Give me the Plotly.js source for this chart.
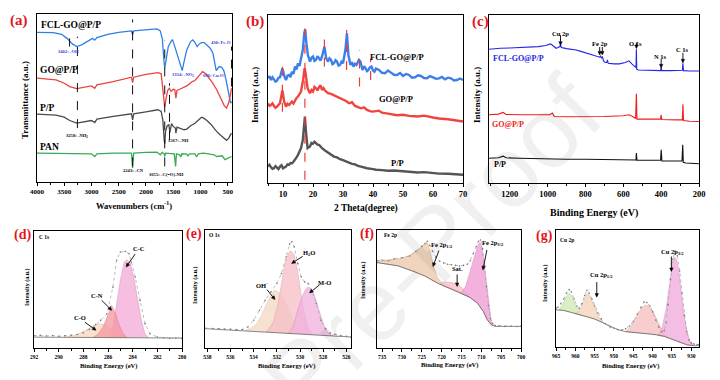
<!DOCTYPE html>
<html><head><meta charset="utf-8">
<script src="https://cdn.plot.ly/plotly-3.0.1.min.js"></script>
<style>html,body{margin:0;padding:0;background:#fff}#chart{width:720px;height:380px}</style>
</head><body><div id="chart"></div>
<script>
// ---------- (a) FTIR ----------
const ftirFCL_x = [4000,3700,3550,3450,3350,3270,3180,3080,2980,2940,2900,2700,2500,2265,2245,2225,2000,1800,1740,1700,1670,1655,1630,1590,1530,1510,1480,1440,1400,1350,1334,1300,1250,1180,1140,1100,1060,1020,980,930,880,820,770,730,710,680,650,610,570,530,500,470,445,430];
const ftirFCL_y = [89.1,88.9,87.9,85.5,82.2,80.6,81.6,83.6,85.5,84.4,85.9,87.9,89.1,89.9,87.7,89.9,90.5,91.1,90.1,85.5,72.7,67.7,72.7,80.6,84.2,84.6,81.6,77.6,73.7,67.7,66.3,71.7,78.6,83.6,84.6,83.0,80.6,82.2,83.0,83.0,81.6,79.6,76.6,68.7,66.3,67.7,68.7,68.3,66.3,60.8,55.8,49.9,46.9,47.9];
const ftirGO_x = [4000,3650,3500,3400,3270,3150,3000,2940,2900,2600,2265,2245,2225,2000,1780,1720,1690,1665,1655,1630,1600,1570,1540,1500,1470,1450,1430,1380,1300,1250,1200,1150,1100,1050,1000,960,900,850,780,700,620,560,520,480,450,430];
const ftirGO_y = [61.8,60.8,58.8,56.8,55.6,56.4,57.2,55.8,57.8,59.8,62.4,59.2,62.4,64.0,65.1,64.4,56.8,46.9,44.6,49.9,54.5,55.8,53.9,55.2,54.9,49.9,54.5,55.2,56.4,57.2,58.4,59.8,60.4,62.4,64.4,65.7,64.4,62.4,59.2,54.9,49.9,45.3,44.0,47.1,51.9,55.8];
const ftirPP_x = [4000,3650,3500,3400,3270,3150,3000,2940,2900,2600,2265,2245,2225,2000,1780,1720,1690,1665,1655,1640,1610,1580,1560,1530,1500,1460,1450,1430,1380,1300,1250,1180,1100,1050,980,940,880,800,720,640,560,520,480,450,430];
const ftirPP_y = [40.4,39.8,38.6,36.6,35.0,35.6,36.6,35.4,37.4,39.0,40.6,37.0,40.6,41.8,43.0,42.0,37.0,25.1,22.8,30.1,33.5,34.1,29.5,34.7,33.1,32.1,29.1,32.7,32.1,31.1,31.5,33.5,35.0,36.6,38.6,38.0,36.6,34.1,30.7,28.1,25.5,24.8,26.1,27.5,29.1];
const ftirPAN_x = [4000,3700,3500,3200,3000,2940,2900,2600,2265,2245,2225,2000,1800,1735,1700,1665,1655,1640,1550,1480,1455,1440,1380,1360,1340,1250,1230,1200,1100,1070,1040,950,850,750,700,600,550,520,480,430];
const ftirPAN_y = [17.2,17.2,17.2,16.8,16.8,15.2,16.8,17.2,17.2,8.3,17.2,17.6,17.8,16.2,17.6,16.8,15.2,17.2,16.8,16.8,9.3,16.8,16.2,14.9,16.8,16.6,15.6,16.8,16.8,14.9,16.8,17.2,16.8,16.2,15.2,15.6,13.3,13.7,14.3,15.2];
const ftirMarks_x = [3402,3258,2245,1655,1567,430];
const ftirMarks_y0 = [80.6,32.1,9.3,9.3,25.1,56.8];
const ftirMarks_y1 = [85.5,86.5,96.8,84.6,58.8,80.6];

// ---------- (b) XRD ----------
const xrdFCL_x = [5,5.5,6,6.5,7,7.5,8,8.5,9,9.8,10.5,11,11.5,12,12.5,13,13.5,14,14.5,15,15.5,16,16.6,17.1,17.4,17.8,18.3,19,19.5,20,20.5,21,21.5,22,22.5,23,23.8,24.4,25,25.5,26,26.5,27,27.5,28,28.5,29,29.5,30,30.8,31.3,31.8,32.5,33,33.5,34,34.5,35.3,35.8,36.5,37,37.5,38,38.5,39,39.5,40,40.5,41,42,43,44,45,46,47,48,49,50,51,52,53,54,55,56,57,58,59,60,61,62,63,64,65,66,67,68,69,70];
const xrdFCL_y = [62.2,63.5,61.2,62.8,61.6,60.2,60.8,62.5,62.8,68.2,63.2,61.2,63.8,64.2,62.9,66.2,64.8,69.2,67.5,71.2,69.6,74.2,79.1,89.1,91.5,83.1,76.1,72.2,74.5,75.2,72.6,73.2,75.4,74.2,72.8,75.2,81.1,74.2,72.2,74.1,73.2,70.6,71.2,73.0,72.2,69.8,70.2,72.1,71.2,79.1,89.1,76.1,70.2,71.8,69.2,70.9,70.2,73.2,72.2,67.2,69.4,68.2,66.5,67.2,68.8,69.2,66.9,66.2,68.0,67.2,65.5,65.2,66.8,65.6,64.3,64.2,65.4,63.6,64.8,64.2,62.6,62.8,64.0,63.6,62.4,62.2,63.5,62.8,61.9,62.2,63.0,61.6,62.6,62.2,60.9,61.2,62.1,61.2];
const xrdGO_x = [5,5.5,6,6.5,7,7.5,8,8.5,9,9.8,10.4,11,11.5,12,12.5,13,13.5,14,14.5,15,15.5,16,16.7,17.2,17.6,18.2,19,19.5,20,20.5,21,21.5,22,22.5,23,23.5,24,25,26,27,28,29,30,31,32,33,34,35,36,37,38,39,40,42,43,45,46,48,50,52,55,57,60,62,65,67,70];
const xrdGO_y = [47.3,45.8,46.3,47.2,45.7,44.6,45.3,46.5,47.3,54.9,48.3,45.3,47.0,46.3,47.6,48.3,47.1,49.3,50.5,51.3,52.6,54.3,61.2,68.2,64.2,56.3,53.3,55.2,54.3,57.1,56.3,55.0,56.9,58.0,55.3,56.4,54.9,53.3,52.9,52.0,51.3,50.6,49.3,48.7,47.3,47.9,45.7,45.0,44.3,44.9,43.3,42.6,42.3,42.9,41.7,41.1,40.9,40.2,40.4,39.8,39.4,39.9,38.8,38.2,37.8,37.4,36.4];
const xrdPP_x = [5,5.5,6,6.5,7,7.5,8,8.5,9,9.5,10,10.5,11,11.5,12,12.5,13,13.5,14,14.5,15,15.5,16,16.6,17.0,17.3,17.7,18.2,19,19.5,20,20.5,21,21.5,22,22.5,23,24,25,26,27,28,29,30,31,32,33,34,35,36,38,40,41,43,45,47,50,52,55,57,60,62,65,67,70];
const xrdPP_y = [9.5,10.6,9.1,8.2,8.5,9.8,8.9,8.0,9.5,10.3,8.5,9.2,9.5,10.8,10.5,11.6,11.5,12.4,13.5,15.0,16.5,18.6,20.5,25.4,35.4,39.4,29.4,20.5,21.5,23.6,23.1,24.3,23.5,22.6,22.5,21.4,20.5,19.1,17.9,16.8,15.5,15.0,13.9,13.4,12.5,12.0,11.1,10.8,9.9,9.5,8.5,8.0,7.6,7.4,7.0,7.2,6.6,6.4,6.0,6.2,5.6,5.3,5.2,4.9,4.6];
const xrdMarks_x = [9.8,17.3,23.8,31.2,35.5,39.2];
const xrdMarks_y0 = [42.3,1.6,69.2,67.2,57.3,61.2];
const xrdMarks_y1 = [71.2,92.0,86.1,91.1,79.1,74.2];

// ---------- (c) XPS survey ----------
const svFCL_x = [1310,1280,1250,1200,1150,1100,1050,1010,985,975,965,955,945,935,932,928,900,870,850,820,800,780,760,740,725,720,715,710,705,695,688,684,680,650,620,590,570,555,540,533,531,529,520,480,420,403,400,397,350,300,288,285,282,250,200];
const svFCL_y = [79.6,80.0,80.2,80.4,80.6,80.8,81.2,81.8,82.8,82.0,81.0,80.2,80.6,81.2,82.6,80.6,80.0,79.6,79.2,78.2,77.6,76.8,76.0,75.6,74.9,75.6,74.3,75.2,72.7,71.7,71.7,73.3,71.3,70.9,70.9,71.7,72.7,70.9,69.3,68.7,79.6,67.7,67.3,67.1,66.9,66.9,68.9,66.9,66.9,66.9,67.1,71.3,66.9,66.7,66.7];
const svGO_x = [1310,1260,1235,1220,1150,1050,990,975,965,900,800,700,600,570,550,535,531,528,450,403,400,397,320,288,285,282,250,200];
const svGO_y = [40.6,41.0,42.0,40.8,40.6,40.4,40.6,41.6,39.6,39.4,39.4,39.6,40.0,40.6,39.6,38.4,53.1,38.0,38.0,38.0,40.6,37.8,37.6,37.6,46.9,37.2,36.8,36.6];
const svPP_x = [1310,1260,1235,1220,1150,1050,1000,900,800,700,600,540,533,531,528,450,403,400,396,320,290,286,283,270,230,200];
const svPP_y = [14.7,15.0,16.0,15.0,14.7,14.3,14.5,14.1,14.1,14.1,14.1,13.9,13.7,17.8,13.5,13.5,13.5,19.8,13.1,13.1,13.1,22.8,12.3,11.9,11.5,11.5];

// ---------- (d) C 1s ----------
const c1sData_x = [292,291.5,291,290.5,290,289.5,289,288.5,288,287.5,287,286.6,286.1,285.6,285.3,285.0,284.6,284.3,284.1,283.8,283.4,283.0,282.6,282.0,281.5,281,280.5,280];
const c1sData_y = [10.5,10.8,10.2,10.6,10.0,10.4,10.8,11.5,13,16,20,23.6,29,52,75,82,82.6,80.6,73.5,60.7,40.7,20.8,12.3,9.4,8.8,8.2,8.6,8.0];
const c1sBase_x = [292,280];
const c1sBase_y = [9.3,8.5];
const c1sCO_x = [289.5,288.8,288.2,287.6,287.1,286.7,286.3,285.9,285.4,284.9,284.4];
const c1sCO_y = [9.1,10.5,13,16.5,19.5,20.8,20,17,13,10.3,9.0];
const c1sCN_x = [287.2,286.8,286.4,286.0,285.7,285.4,285.1,284.8,284.5];
const c1sCN_y = [9.1,12,18,28,36.5,30,20,13,9.0];
const c1sCC_x = [286.0,285.6,285.3,285.0,284.7,284.5,284.2,283.9,283.6,283.3,283.0,282.7];
const c1sCC_y = [9.0,18,38,58,73,75.5,73,60,42,24,12,9];

// ---------- (e) O 1s ----------
const o1sData_x = [538.2,537.5,537,536.5,536,535.5,535,534.5,534,533.5,533,532.5,532,531.6,531.2,530.9,530.7,530.5,530.2,529.9,529.6,529.3,529,528.6,528.2,527.8,527.4,527,526.5,526,525.6];
const o1sData_y = [16.8,16.5,16.3,15.8,15.8,15.4,15.6,17.8,23.5,32,40.5,47.6,54.7,63,77.3,88,90,85.8,71.7,60.3,56,54.7,49,37.7,23.5,16.4,12.7,11.6,10.5,9.9,9.3];
const o1sBase_x = [538.2,525.6];
const o1sBase_y = [16.4,9.3];
const o1sOH_x = [534.8,534.3,533.8,533.3,532.9,532.5,532.2,531.8,531.4,531.0,530.6,530.2,529.8];
const o1sOH_y = [14.6,16.5,20,28,37,45,49,47,41,32,23,16,11.6];
const o1sH2O_x = [532.9,532.3,531.9,531.6,531.3,531.0,530.8,530.5,530.2,529.9,529.6,529.3,528.9];
const o1sH2O_y = [13.5,22,37,56,72,80,82.4,79,65,45,28,17,11.2];
const o1sMO_x = [531.0,530.6,530.2,529.8,529.5,529.3,529.0,528.7,528.3,527.9,527.5,527.1];
const o1sMO_y = [12.4,18,32,44,50,51.8,50,43,30,18,12,10.2];

// ---------- (f) Fe 2p ----------
const fe2pData_x = [736.3,735,733.5,732,730,728,726.5,725,724.2,723.6,723,722.3,721.5,720.5,719.5,718.5,717.5,716.5,715.5,714.5,713.5,712.8,712,711.3,710.7,710.2,709.7,709.2,708.7,708.2,707.7,707.2,706.5,705.5,704,702.5,701,700];
const fe2pData_y = [74,74.5,74,75.5,76.5,78,82,86,88.5,90.5,87,82,77,73.5,72,71,70.5,70,69.5,70,71,74,80,86,90.5,91.5,84,70,52,36,25,21,19,18.8,18.3,18.6,18.2,18.5];
const fe2pBase_x = [736.3,731,727,724,721,718,715,713,711,709.5,708.5,707.5,706.5,703,700];
const fe2pBase_y = [72.4,69.6,64.8,60.6,54.9,50.7,46.5,43.1,38.0,31.0,23.9,19.7,18.3,18.3,18.3];
const fe12_x = [736.3,734,731,728,726,724.5,723.6,722.8,722,721.2,720.3,719,718,717,716,715,713.5,713,715,718,721,724,727,731,736.3];
const fe12_y = [73.5,74.4,75.5,78.5,83,87.5,89.3,80.3,69,60.6,56.3,53,51.5,50,48.5,47,44,43.1,46.5,50.7,54.9,60.6,64.8,69.6,72.4];
const feSat_x = [720.3,719,717.5,716.5,715.5,714.5,713.5,713,715,718,720.3];
const feSat_y = [55.5,56,55.5,54.9,53,50,46.5,43.1,46.5,50.7,54.1];
const fe32_x = [715,714,713,712,711,710.5,710,709.5,709,708.5,708,707.5,707,707.5,708.5,709.5,711,713,715];
const fe32_y = [47,52,63,74.6,85.9,89.3,87.3,77.5,63.4,46.5,32.4,22.5,19,19.7,23.9,31,38,43.1,46.5];

// ---------- (g) Cu 2p ----------
const cu2pData_x = [965,964.5,963.8,963,962.3,961.6,961,960.3,959.6,959,958.3,957.6,957,956.4,955.7,955,954.2,953.3,952.3,951,950,949,948,947,946,945,944,943,942.2,941.5,940.7,940,939.2,938.4,937.6,937,936.5,936,935.4,934.8,934.2,933.6,933,932.4,931.8,931.2,930.6,930,929.3,928.5,928];
const cu2pData_y = [33,34,37,41,46,49,47,41,35,33,37,44,48.5,46,41,35,29,24,20,17,16,15,14.5,15.5,18,22,28,34,38.5,38,35,30,23,17,13,14,21,36,58,75,82,78,65,46,27,13,6,3.5,2.5,2,2];
const cu2pBase_x = [965,963,961,959,957,955,953,951,949,947,945,943,941,939,937,935,933,931,929,928];
const cu2pBase_y = [31.8,31.3,29.5,27.6,26.1,23.9,21.0,17.6,14.8,13.1,12.5,11.9,11.4,10.5,9.1,6.8,4.0,1.7,1.1,1.1];
const cuSat2_x = [964.3,963.5,962.8,962.2,961.6,961,960.4,959.8,959.2,958.6,961,963,964.3];
const cuSat2_y = [31.5,35,40,44,46,44,39,34,30,27.4,29.5,31.3,31.5];
const cu12_x = [960,959,958.3,957.7,957.2,956.8,956.3,955.6,954.8,954,953,952,951,953,955,957,959,960];
const cu12_y = [28.5,31,36,41,44.5,45.5,44,39,32,26,21.5,19,17.6,21.0,23.9,26.1,27.6,28.5];
const cuSat1_x = [947,946,945,944,943,942,941,940,939,938,937,936,937,939,941,943,945,947];
const cuSat1_y = [13.1,16,21,27,32.5,36,35,31,24,17,12,8.5,9.1,10.5,11.4,11.9,12.5,13.1];
const cu32_x = [938.5,937.5,936.5,935.7,935,934.4,933.8,933.2,932.5,931.8,931,930.2,929.6,931,933,935,937,938.5];
const cu32_y = [9.8,17,33,52,68,77,75,64,45,26,12,4,1.4,1.7,4.0,6.8,9.1,9.8];

// ---------- labels ----------
const panelLetters = ['(a)','(b)','(c)','(d)','(e)','(f)','(g)'];
const sampleNames = ['FCL-GO@P/P','GO@P/P','P/P','PAN'];

// ================= drawing =================
const F = 'Liberation Serif, Times New Roman, serif';
const traces = [];
function line(x, y, xa, ya, color, w, extra) {
  return Object.assign({type:'scatter', mode:'lines', x:x, y:y, xaxis:xa, yaxis:ya,
    line:{color:color, width:w}, hoverinfo:'skip', showlegend:false}, extra||{});
}
function poly(x, y, xa, ya, fill, edge) {
  return {type:'scatter', mode:'lines', x:x, y:y, xaxis:xa, yaxis:ya, fill:'toself',
    fillcolor:fill, line:{color:edge, width:0.6}, hoverinfo:'skip', showlegend:false};
}
const dotted = {mode:'lines+markers', marker:{size:1.6, color:'#777'}, line:{color:'#aaa', width:0.8, dash:'dot'}};
// (a)
traces.push(line(ftirFCL_x, ftirFCL_y, 'x', 'y', '#2F7FE6', 1.3));
traces.push(line(ftirGO_x, ftirGO_y, 'x', 'y', '#EA4440', 1.3));
traces.push(line(ftirPP_x, ftirPP_y, 'x', 'y', '#4A4A4A', 1.3));
traces.push(line(ftirPAN_x, ftirPAN_y, 'x', 'y', '#3AAA55', 1.3));
// (b)
traces.push(line(xrdFCL_x, xrdFCL_y, 'x2', 'y2', '#3C7FE9', 2.4));
traces.push(line(xrdGO_x, xrdGO_y, 'x2', 'y2', '#F0443E', 2.4));
traces.push(line(xrdPP_x, xrdPP_y, 'x2', 'y2', '#555555', 2.4));
// (c)
traces.push(line(svFCL_x, svFCL_y, 'x3', 'y3', '#2424E6', 1.1));
traces.push(line(svGO_x, svGO_y, 'x3', 'y3', '#F01C1C', 1.1));
traces.push(line(svPP_x, svPP_y, 'x3', 'y3', '#111111', 1.1));
// (d)
traces.push(poly(c1sCC_x, c1sCC_y, 'x4', 'y4', 'rgba(243,170,215,0.75)', 'rgba(200,120,170,0.6)'));
traces.push(poly(c1sCO_x, c1sCO_y, 'x4', 'y4', 'rgba(248,214,190,0.75)', 'rgba(210,170,140,0.6)'));
traces.push(poly(c1sCN_x, c1sCN_y, 'x4', 'y4', 'rgba(245,150,160,0.75)', 'rgba(210,110,120,0.6)'));
traces.push(line(c1sBase_x, c1sBase_y, 'x4', 'y4', '#555', 0.7));
traces.push(line(c1sData_x, c1sData_y, 'x4', 'y4', '#9a9a9a', 0.8, dotted));
// (e)
traces.push(poly(o1sOH_x, o1sOH_y, 'x5', 'y5', 'rgba(245,218,196,0.8)', 'rgba(210,175,150,0.6)'));
traces.push(poly(o1sH2O_x, o1sH2O_y, 'x5', 'y5', 'rgba(246,190,198,0.75)', 'rgba(210,140,150,0.6)'));
traces.push(poly(o1sMO_x, o1sMO_y, 'x5', 'y5', 'rgba(242,175,222,0.75)', 'rgba(200,120,180,0.6)'));
traces.push(line(o1sBase_x, o1sBase_y, 'x5', 'y5', '#555', 0.7));
traces.push(line(o1sData_x, o1sData_y, 'x5', 'y5', '#9a9a9a', 0.8, dotted));
// (f)
traces.push(poly(fe12_x, fe12_y, 'x6', 'y6', 'rgba(238,205,178,0.85)', 'rgba(190,150,120,0.6)'));
traces.push(poly(feSat_x, feSat_y, 'x6', 'y6', 'rgba(247,195,200,0.85)', 'rgba(210,140,150,0.6)'));
traces.push(poly(fe32_x, fe32_y, 'x6', 'y6', 'rgba(240,165,215,0.85)', 'rgba(200,110,170,0.6)'));
traces.push(line(fe2pBase_x, fe2pBase_y, 'x6', 'y6', '#555', 0.7));
traces.push(line(fe2pData_x, fe2pData_y, 'x6', 'y6', '#9a9a9a', 0.8, dotted));
// (g)
traces.push(poly(cuSat2_x, cuSat2_y, 'x7', 'y7', 'rgba(210,235,185,0.85)', 'rgba(150,190,120,0.6)'));
traces.push(poly(cu12_x, cu12_y, 'x7', 'y7', 'rgba(245,214,192,0.85)', 'rgba(200,160,130,0.6)'));
traces.push(poly(cuSat1_x, cuSat1_y, 'x7', 'y7', 'rgba(246,196,196,0.85)', 'rgba(200,140,140,0.6)'));
traces.push(poly(cu32_x, cu32_y, 'x7', 'y7', 'rgba(242,178,222,0.85)', 'rgba(200,120,175,0.6)'));
traces.push(line(cu2pBase_x, cu2pBase_y, 'x7', 'y7', '#555', 0.7));
traces.push(line(cu2pData_x, cu2pData_y, 'x7', 'y7', '#9a9a9a', 0.8, dotted));

// dashed marker lines
const shapes = [];
ftirMarks_x.forEach((x,i) => shapes.push({type:'line', xref:'x', yref:'y', x0:x, x1:x, y0:ftirMarks_y0[i], y1:ftirMarks_y1[i], line:{color:'#111', width:1, dash:'dash'}}));
xrdMarks_x.forEach((x,i) => shapes.push({type:'line', xref:'x2', yref:'y2', x0:x, x1:x, y0:xrdMarks_y0[i], y1:xrdMarks_y1[i], line:{color:'#F03A3A', width:1.2, dash:'dash'}}));

// arrows: head anchored at data point, tail offset (dx, dy) in screen pixels (dy<0 = above)
function arrow(xr, yr, x, y, dx, dy) {
  const tx = dx, ty = -dy;               // pixel-mode path: y up
  const len = Math.hypot(tx, ty), ux = tx/len, uy = ty/len;
  const hl = 3.6, hw = 1.7;
  const bx = ux*hl, by = uy*hl;
  const p1x = bx - uy*hw, p1y = by + ux*hw, p2x = bx + uy*hw, p2y = by - ux*hw;
  const f = v => v.toFixed(2);
  shapes.push({type:'path', xref:xr, yref:yr, xsizemode:'pixel', ysizemode:'pixel', xanchor:x, yanchor:y,
    path:`M${f(tx)},${f(ty)} L${f(bx)},${f(by)}`, line:{color:'#000', width:0.9}});
  shapes.push({type:'path', xref:xr, yref:yr, xsizemode:'pixel', ysizemode:'pixel', xanchor:x, yanchor:y,
    path:`M${f(p1x)},${f(p1y)} L${f(p2x)},${f(p2y)} L0,0 Z`, line:{color:'#000', width:0.5}, fillcolor:'#000'});
}
arrow('x3','y3', 932, 82.0, 0, -10);
arrow('x3','y3', 725, 76.2, 0, -8);
arrow('x3','y3', 711, 76.2, 0, -8);
arrow('x3','y3', 531, 80.0, 0, -6);
arrow('x3','y3', 400, 68.5, 0, -9);
arrow('x3','y3', 285, 71.5, 0, -10);
arrow('x4','y4', 284.53, 69.2, 9, -13);
arrow('x4','y4', 285.7, 32.2, -10, -10);
arrow('x4','y4', 286.97, 15.1, -11, -8);
arrow('x5','y5', 530.72, 71.7, 11, -7);
arrow('x5','y5', 532.16, 41, -8, -10);
arrow('x5','y5', 529.18, 46.7, 10, -8);
arrow('x6','y6', 722.2, 69, 6, -16);
arrow('x6','y6', 716.1, 52.1, 0, -12);
arrow('x6','y6', 709.6, 66.2, 4, -20);
arrow('x7','y7', 954.45, 42.6, 0, -15);
arrow('x7','y7', 935.15, 64.5, 0, -15);

// axes
const W = 720, H = 380;
function xa(l, r, range, dtick, mdtick, fs, anchor) {
  return {domain:[l/W, r/W], range:range, dtick:dtick, tick0:0, ticks:'outside', ticklen:3, tickwidth:1, tickcolor:'#000',
    showline:true, linecolor:'#000', linewidth:1, mirror:true, zeroline:false, showgrid:false, anchor:anchor,
    tickfont:{family:F, size:fs, color:'#000', weight:'bold'},
    minor:{dtick:mdtick, ticks:'outside', ticklen:2, tickcolor:'#000', showgrid:false}};
}
function ya(t, b, anchor) {
  return {domain:[1-b/H, 1-t/H], range:[0,100], showticklabels:false, ticks:'', showline:true, linecolor:'#000', linewidth:1,
    mirror:true, zeroline:false, showgrid:false, anchor:anchor};
}
function T(text, px, py, size, o) {
  o = o || {};
  return {xref:'paper', yref:'paper', x:px/W, y:1-py/H, text:text, showarrow:false,
    xanchor:o.xa||'center', yanchor:'middle', textangle:o.ang||0,
    font:{family:o.fam||F, size:size, color:o.c||'#000', weight:o.w||'bold'}};
}
const red = '#E3151B';
const ann = [];
// watermark
ann.push(T('Pre-Proof', 432, 246, 100, {ang:-45, fam:'Liberation Sans, Arial, sans-serif', c:'rgba(0,0,0,0.06)', w:'normal'}));
// panel letters
ann.push(T(panelLetters[0], 19, 21, 15, {c:red}));
ann.push(T(panelLetters[1], 255, 22, 15, {c:red}));
ann.push(T(panelLetters[2], 480, 22, 15, {c:red}));
ann.push(T(panelLetters[3], 22, 235, 14, {c:red}));
ann.push(T(panelLetters[4], 194, 234, 14, {c:red}));
ann.push(T(panelLetters[5], 367, 234, 14, {c:red}));
ann.push(T(panelLetters[6], 544, 236, 14, {c:red}));
// (a)
ann.push(T(sampleNames[0], 39, 25, 9.5, {xa:'left'}));
ann.push(T(sampleNames[1], 38, 70, 9.5, {xa:'left'}));
ann.push(T(sampleNames[2], 38, 108, 9.5, {xa:'left'}));
ann.push(T(sampleNames[3], 38, 147, 9.5, {xa:'left'}));
const blueLab = '#3535E0';
ann.push(T('3402: -OH', 68, 52, 4.6, {c:blueLab}));
ann.push(T('3258: -NH<sub>2</sub>', 77, 136, 4.6));
ann.push(T('2243: -CN', 133, 171, 4.6));
ann.push(T('1655: -C(=O)-NH', 166, 174, 4.6));
ann.push(T('1567: -NH', 178, 140, 4.6));
ann.push(T('1334: -NO<sub>2</sub>', 183, 75, 4.6, {c:blueLab}));
ann.push(T('690: Cu-O', 213, 76, 4.6, {c:blueLab}));
ann.push(T('430: Fe-O', 221, 42, 4.6, {c:blueLab}));
ann.push(T('Transmittance (a.u.)', 25, 100, 9, {ang:-90}));
ann.push(T('Wavenumbers (cm<sup>-1</sup>)', 134, 205, 8.5));
// (b)
ann.push(T(sampleNames[0], 368, 57, 8.5, {xa:'left'}));
ann.push(T(sampleNames[1], 377, 99, 8.5, {xa:'left'}));
ann.push(T(sampleNames[2], 389, 163, 8.5, {xa:'left'}));
ann.push(T('Intensity (a.u.)', 255, 95, 9, {ang:-90}));
ann.push(T('2 Theta(degree)', 366, 208, 9.5));
// (c)
ann.push(T(sampleNames[0], 491, 58, 8, {xa:'left', c:'#2424E6'}));
ann.push(T(sampleNames[1], 490, 124, 8, {xa:'left', c:'#F01C1C'}));
ann.push(T(sampleNames[2], 492, 164, 8, {xa:'left'}));
ann.push(T('Intensity (a.u.)', 477, 95, 9, {ang:-90}));
ann.push(T('Binding Energy (eV)', 594, 213, 10));
ann.push(T('Cu 2p', 560, 33, 6.5));
ann.push(T('Fe 2p', 600, 43, 6.5));
ann.push(T('O 1s', 635, 43, 6.5));
ann.push(T('N 1s', 660, 56, 6.5));
ann.push(T('C 1s', 682, 50, 6.5));
// (d)
ann.push(T('C 1s', 37, 237, 5.5, {xa:'left'}));
ann.push(T('C-C', 139, 248, 6.5));
ann.push(T('C-N', 97, 295, 6.5));
ann.push(T('C-O', 80, 317, 6.5));
ann.push(T('Intensity (a.u.)', 27, 287, 6, {ang:-90}));
ann.push(T('Binding Energy (eV)', 108, 366, 6.5));
// (e)
ann.push(T('O 1s', 207, 235, 5.5, {xa:'left'}));
ann.push(T('H<sub>2</sub>O', 309, 253, 6.5));
ann.push(T('OH<sup>-</sup>', 262, 285, 6.5));
ann.push(T('M-O', 324, 282, 6.5));
ann.push(T('Intensity (a.u.)', 195, 285, 6, {ang:-90}));
ann.push(T('Binding Energy (eV)', 286, 366, 6.5));
// (f)
ann.push(T('Fe 2p', 382, 235, 5.5, {xa:'left'}));
ann.push(T('Fe 2p<sub>1/2</sub>', 442, 245, 6.5));
ann.push(T('Sat.', 457, 268, 6.5));
ann.push(T('Fe 2p<sub>3/2</sub>', 493, 243, 6.5));
ann.push(T('Intensity (a.u.)', 363, 280, 6, {ang:-90}));
ann.push(T('Binding Energy (eV)', 449, 365, 6.5));
// (g)
ann.push(T('Cu 2p', 558, 240, 5.5, {xa:'left'}));
ann.push(T('Cu 2p<sub>1/2</sub>', 601, 275, 6.5));
ann.push(T('Cu 2p<sub>3/2</sub>', 672, 252, 6.5));
ann.push(T('Intensity (a.u.)', 545, 283, 6, {ang:-90}));
ann.push(T('Binding Energy (eV)', 630, 366, 6.5));

const layout = {
  width:W, height:H, margin:{l:0, r:0, t:0, b:0}, paper_bgcolor:'#fff', plot_bgcolor:'rgba(0,0,0,0)', showlegend:false,
  xaxis: xa(37, 232, [4000, 420], 500, 250, 7, 'y'),
  yaxis: ya(14, 182, 'x'),
  xaxis2: xa(268, 463, [5, 70], 10, 5, 8.5, 'y2'),
  yaxis2: ya(15, 182.5, 'x2'),
  xaxis3: xa(489, 699, [1310, 200], 200, 100, 8.5, 'y3'),
  yaxis3: ya(15, 183, 'x3'),
  xaxis4: xa(34, 182, [292, 280], 2, 1, 5.5, 'y4'),
  yaxis4: ya(231, 348, 'x4'),
  xaxis5: xa(205, 351, [538.2, 525.6], 2, 1, 5.5, 'y5'),
  yaxis5: ya(230, 348, 'x5'),
  xaxis6: xa(377, 521, [736.3, 700], 5, 2.5, 5.5, 'y6'),
  yaxis6: ya(230, 348, 'x6'),
  xaxis7: xa(556, 699, [965, 928], 5, 2.5, 5.5, 'y7'),
  yaxis7: ya(230, 347, 'x7'),
  shapes: shapes,
  annotations: ann
};
Plotly.newPlot('chart', traces, layout, {staticPlot:true, displayModeBar:false});
</script></body></html>
